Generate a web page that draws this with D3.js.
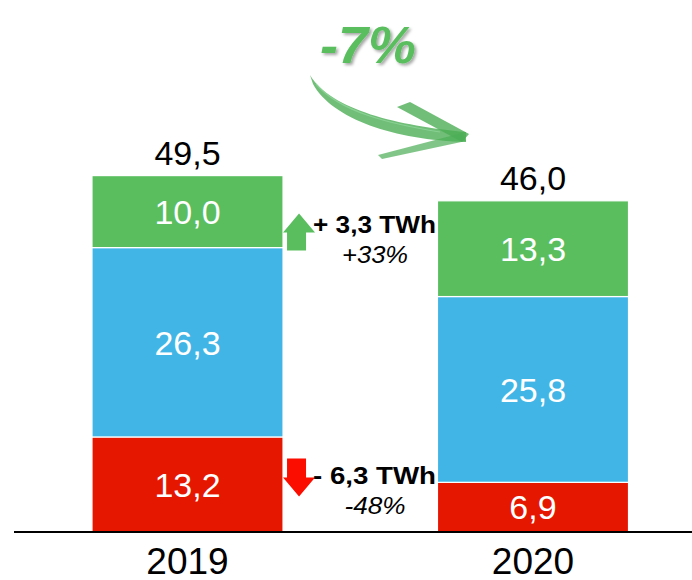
<!DOCTYPE html>
<html>
<head>
<meta charset="utf-8">
<script src="https://cdn.jsdelivr.net/npm/d3@7"></script>
<style>
	body { margin: 0; background: #fff; }
	svg { display: block; font-family: "Liberation Sans", Arial, sans-serif; }
</style>
</head>
<body>
<div id="chart"></div>
<script>
	//
	// Data
	//
	let years = ['2019', '2020'];
	let seriesKeys = ['bottom', 'middle', 'top'];
	let bottomValues = [13.2, 6.9];
	let middleValues = [26.3, 25.8];
	let topValues = [10.0, 13.3];
	let totals = [49.5, 46.0];
	let changeLabels = ['+ 3,3 TWh', '- 6,3 TWh'];
	let changePcts = ['+33%', '-48%'];
	let overallChange = '-7%';

	let COLORS = { bottom: '#e61700', middle: '#41b6e6', top: '#5abe5f' };

	function fmt(v) {
		return v.toFixed(1).replace('.', ',');
	}

	var svg_width = 692,
		svg_height = 580;

	var svg = d3.select('#chart').append('svg')
		.attr('width', svg_width)
		.attr('height', svg_height);

	var defs = svg.append('defs');
	defs.append('filter')
		.attr('id', 'shadow')
		.attr('x', '-20%').attr('y', '-20%')
		.attr('width', '140%').attr('height', '140%')
		.append('feDropShadow')
		.attr('dx', 2).attr('dy', 2)
		.attr('stdDeviation', 1.5)
		.attr('flood-color', '#000')
		.attr('flood-opacity', 0.35);

	// table for d3.stack
	var table = years.map(function(y, i) {
		return { year: y, bottom: bottomValues[i], middle: middleValues[i], top: topValues[i] };
	});

	var x = d3.scaleBand()
		.domain(years)
		.range([29.8, 690.7])
		.paddingInner(0.447)
		.paddingOuter(0.18);

	var y = d3.scaleLinear()
		.domain([0, 60])
		.range([532, 100]);

	var stacked = d3.stack().keys(seriesKeys)(table);

	// bars
	var layers = svg.selectAll('g.layer')
		.data(stacked)
		.enter().append('g')
		.attr('class', 'layer')
		.attr('fill', function(d) { return COLORS[d.key]; });

	layers.selectAll('rect')
		.data(function(d) { return d; })
		.enter().append('rect')
		.attr('x', function(d) { return x(d.data.year); })
		.attr('y', function(d) { return y(d[1]); })
		.attr('width', x.bandwidth())
		.attr('height', function(d) { return y(d[0]) - y(d[1]); })
		.style('stroke', '#fff')
		.style('stroke-width', 1.2);

	// values inside segments
	layers.selectAll('text')
		.data(function(d) { return d; })
		.enter().append('text')
		.attr('x', function(d) { return x(d.data.year) + x.bandwidth() / 2; })
		.attr('y', function(d) { return (y(d[0]) + y(d[1])) / 2; })
		.attr('dy', '0.36em')
		.attr('text-anchor', 'middle')
		.attr('fill', '#fff')
		.style('font-size', '34px')
		.text(function(d) { return fmt(d[1] - d[0]); });

	// totals
	svg.selectAll('text.total')
		.data(totals)
		.enter().append('text')
		.attr('class', 'total')
		.attr('x', function(d, i) { return x(years[i]) + x.bandwidth() / 2; })
		.attr('y', function(d) { return y(d) - 11; })
		.attr('text-anchor', 'middle')
		.attr('fill', '#000')
		.style('font-size', '34px')
		.text(function(d) { return fmt(d); });

	// axis
	var axis = svg.append('g')
		.attr('transform', 'translate(0,' + y(0) + ')')
		.call(d3.axisBottom(x).tickSize(0).tickPadding(16));
	axis.select('.domain')
		.attr('d', 'M14,0H692')
		.style('stroke', '#000')
		.style('stroke-width', 2);
	axis.selectAll('.tick text')
		.style('font-family', '"Liberation Sans", Arial, sans-serif')
		.style('font-size', '37px')
		.attr('fill', '#000');

	// change annotations between the bars
	var annoX = x(years[0]) + x.bandwidth();
	var annoY = [
		y(bottomValues[0] + middleValues[0] + topValues[0] / 2) + 21,
		y(bottomValues[0] / 2)
	];
	var annoColor = ['#5abe5f', '#fb0d00'];

	var anno = svg.selectAll('g.anno')
		.data(changeLabels)
		.enter().append('g')
		.attr('class', 'anno')
		.attr('transform', function(d, i) { return 'translate(' + annoX + ',' + annoY[i] + ')'; });

	anno.append('path')
		.attr('d', function(d, i) {
			if (i == 0) {
				// up arrow
				return 'M0,0 L16,-19 L32,0 L23,0 L23,18 L4,18 L4,0 Z';
			}
			// down arrow
			return 'M4,-26 L23,-26 L23,-7 L32,-7 L16,12 L0,-7 L4,-7 Z';
		})
		.attr('fill', function(d, i) { return annoColor[i]; });

	anno.append('text')
		.attr('x', 30)
		.attr('y', 0)
		.attr('fill', '#000')
		.attr('textLength', 123)
		.attr('lengthAdjust', 'spacingAndGlyphs')
		.style('font-size', '23px')
		.style('font-weight', 'bold')
		.text(function(d) { return d; });

	anno.append('text')
		.attr('x', 92)
		.attr('y', 30)
		.attr('text-anchor', 'middle')
		.attr('fill', '#000')
		.attr('textLength', function(d, i) { return i == 0 ? 66 : 61; })
		.attr('lengthAdjust', 'spacingAndGlyphs')
		.style('font-size', '23px')
		.style('font-style', 'italic')
		.text(function(d, i) { return changePcts[i]; });

	// overall change with hand drawn arrow
	svg.append('text')
		.attr('x', 368)
		.attr('y', 63)
		.attr('text-anchor', 'middle')
		.attr('fill', '#5abe5f')
		.attr('filter', 'url(#shadow)')
		.attr('textLength', 96)
		.attr('lengthAdjust', 'spacingAndGlyphs')
		.style('font-size', '52px')
		.style('font-weight', 'bold')
		.style('font-style', 'italic')
		.text(overallChange);

	var brush = svg.append('g')
		.attr('fill', '#4cae55');
	brush.append('path')
		.attr('d', 'M310,75 C330,110 400,126 466,132 L466,142 C395,140 332,119 313,84 Z')
		.attr('opacity', 0.8);
	brush.append('path')
		.attr('d', 'M397,107 L410,102 L469,134 L462,142 Z')
		.attr('opacity', 0.8);
	brush.append('path')
		.attr('d', 'M378,155 L462,133 L466,141 L382,159 Z')
		.attr('opacity', 0.7);
	brush.append('path')
		.attr('d', 'M316,84 C340,112 390,124 440,132')
		.attr('fill', 'none')
		.attr('stroke', '#8fd49a')
		.attr('stroke-width', 1.2)
		.attr('opacity', 0.8);
</script>
</body>
</html>
